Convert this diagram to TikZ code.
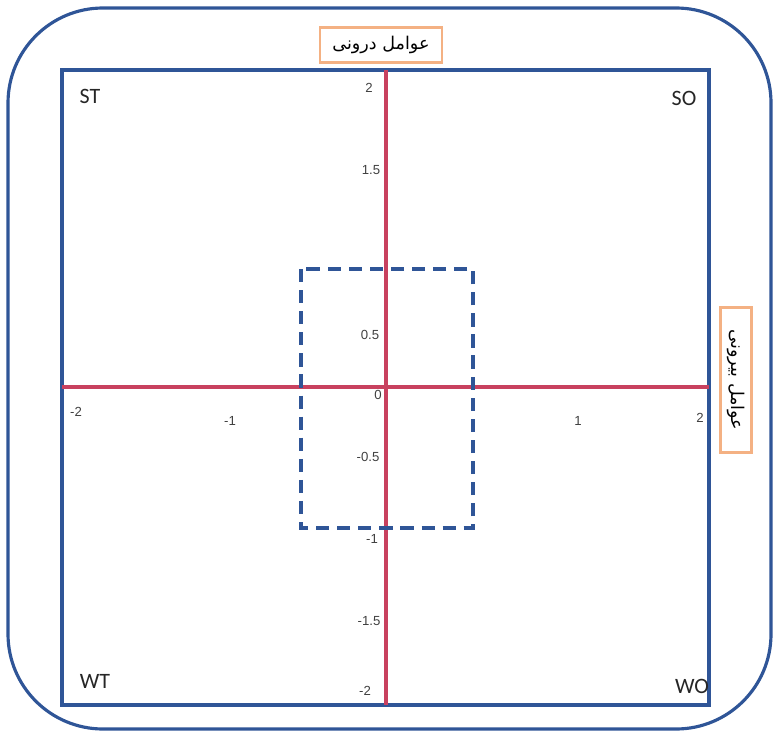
\documentclass[tikz,border=0pt]{standalone}
\usepackage{fontspec}
\setmainfont{Carlito}
\newfontfamily\numfont{Liberation Sans}
\newfontfamily\arabicfont[Script=Arabic]{DejaVu Sans}
\TeXXeTstate=1
\definecolor{frameblue}{HTML}{2F5597}
\definecolor{axisred}{HTML}{C8415F}
\definecolor{tagorange}{HTML}{F4B183}
\definecolor{ticktext}{HTML}{404040}
\tikzset{
  quad/.style={font=\fontsize{12.5}{12.5}\selectfont, text=black!85, inner sep=0pt},
  tick/.style={font=\numfont\fontsize{7.5}{7.5}\selectfont, text=ticktext, inner sep=0pt},
  tag/.style={draw=tagorange, line width=1.5pt, fill=white, inner sep=0pt,
    font=\arabicfont\fontsize{10}{10}\selectfont},
}
\begin{document}
\begin{tikzpicture}[x=0.02cm, y=-0.02cm]
  \useasboundingbox (0,0) rectangle (773,733);

  % outer frame and the square of the matrix
  \draw[frameblue, line width=1.8pt, rounded corners=95*0.02cm] (8,8) rectangle (771,729);
  \draw[frameblue, line width=1.8pt] (62,70) rectangle (709,705);

  % axes
  \coordinate (ytop) at (386,70);
  \coordinate (ybot) at (386,705);
  \coordinate (xleft) at (62,387);
  \coordinate (xright) at (709,387);
  \draw[axisred, line width=1.9pt] (ytop) -- (ybot);
  \draw[axisred, line width=1.9pt] (xleft) -- (xright);

  % dashed zone around the origin
  \draw[frameblue, line width=1.8pt, dash pattern=on 7.5pt off 4.5pt] (301,269) rectangle (473,528);

  % tick values on the vertical axis
  \node[tick] (y2) at (369,88) {2};
  \node[tick] (y15) at (371,170) {1.5};
  \node[tick] (y05) at (370,335) {0.5};
  \node[tick] (y0) at (378,395) {0};
  \node[tick] (ym05) at (368,457) {-0.5};
  \node[tick] (ym1) at (372,539) {-1};
  \node[tick] (ym15) at (369,621) {-1.5};
  \node[tick] (ym2) at (365,691) {-2};

  % tick values on the horizontal axis
  \node[tick] (xm2) at (76,412) {-2};
  \node[tick] (xm1) at (230,421) {-1};
  \node[tick] (x1) at (578,421) {1};
  \node[tick] (x2) at (700,418) {2};

  % quadrant names
  \node[quad] (st) at (90,96) {ST};
  \node[quad] (so) at (684,98) {SO};
  \node[quad] (wt) at (95,681) {WT};
  \node[quad] (wo) at (692,686) {WO};

  % factor labels
  \node[tag, minimum width=122*0.02cm, minimum height=35*0.02cm] (inner) at (381,45)
    {\beginR عوامل درونی\endR};
  \node[tag, rotate=-90, minimum width=145*0.02cm, minimum height=31*0.02cm] (outer) at (736,380)
    {\beginR عوامل بیرونی\endR};
\end{tikzpicture}
\end{document}
